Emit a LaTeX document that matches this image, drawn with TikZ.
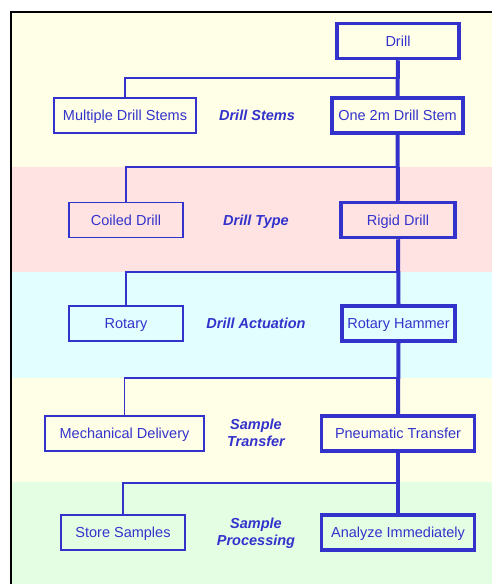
\documentclass[tikz,border=0pt]{standalone}
\usepackage{fontspec}
\setmainfont{Liberation Sans}
\definecolor{dblue}{HTML}{3333CC}
\definecolor{bandyellow}{HTML}{FFFEE6}
\definecolor{bandpink}{HTML}{FFE2E2}
\definecolor{bandcyan}{HTML}{E2FEFE}
\definecolor{bandgreen}{HTML}{E4FEE4}
\begin{document}
\begin{tikzpicture}[x=1pt,y=-1pt,
  every node/.style={font=\fontsize{14.5}{17}\selectfont, text=dblue, inner sep=0pt},
  opt/.style={draw=dblue, line width=1.2pt, minimum height=35pt, text height=10.4pt, text depth=0pt},
  chosen/.style={draw=dblue, line width=3.5pt, minimum height=35pt, text height=10.4pt, text depth=0pt},
  lbl/.style={font=\fontsize{14.5}{17}\selectfont\bfseries\itshape, align=center},
  thin/.style={draw=dblue, line width=1.2pt},
  trunk/.style={draw=dblue, line width=4pt}]
\useasboundingbox (0,0) rectangle (492,584);
% bands
\fill[bandyellow] (11,12) rectangle (492,167);
\fill[bandpink] (11,167) rectangle (492,272);
\fill[bandcyan] (11,272) rectangle (492,377.5);
\fill[bandyellow] (11,377.5) rectangle (492,482);
\fill[bandgreen] (11,482) rectangle (492,584);
\draw[black, line width=1.5pt] (11,584) -- (11,12) -- (492,12);
% nodes
\node[chosen, minimum width=122pt] (drill) at (398,41) {Drill};
\node[opt, minimum width=142pt] (multi) at (125,115.5) {Multiple Drill Stems};
\node[lbl] (lstems) at (257,115.5) {Drill Stems};
\node[chosen, minimum width=131pt] (one) at (397.5,115.5) {One 2m Drill Stem};
\node[opt, minimum width=114pt] (coiled) at (126,220) {Coiled Drill};
\node[lbl] (ltype) at (256,221.5) {Drill Type};
\node[chosen, minimum width=114pt] (rigid) at (398,220) {Rigid Drill};
\node[opt, minimum width=114pt] (rotary) at (126,323.5) {Rotary};
\node[lbl] (lact) at (256,323) {Drill Actuation};
\node[chosen, minimum width=113pt] (hammer) at (398.5,323.5) {Rotary Hammer};
\node[opt, minimum width=159pt] (mech) at (124.5,433.5) {Mechanical Delivery};
\node[lbl] (ltrans) at (256,433) {Sample\\Transfer};
\node[chosen, minimum width=153pt] (pneu) at (398,433.5) {Pneumatic Transfer};
\node[opt, minimum width=124pt] (store) at (123,532.5) {Store Samples};
\node[lbl] (lproc) at (256,533.5) {Sample\\Processing};
\node[chosen, minimum width=153pt] (analyze) at (398,532.5) {Analyze Immediately};
% junction coordinates
\coordinate (j1) at (398,78);
\coordinate (j2) at (398,167);
\coordinate (j3) at (398,272);
\coordinate (j4) at (398,378);
\coordinate (j5) at (398,483);
% trunk
\draw[trunk] (drill.south) -- (one.north);
\draw[trunk] (one.south) -- (rigid.north);
\draw[trunk] (rigid.south) -- (hammer.north);
\draw[trunk] (hammer.south) -- (pneu.north);
\draw[trunk] (pneu.south) -- (analyze.north);
% branches
\draw[thin] (multi.north) |- (j1);
\draw[thin] (coiled.north) |- (j2);
\draw[thin] (rotary.north) |- (j3);
\draw[thin] (mech.north) |- (j4);
\draw[thin] (store.north) |- (j5);
\end{tikzpicture}
\end{document}
